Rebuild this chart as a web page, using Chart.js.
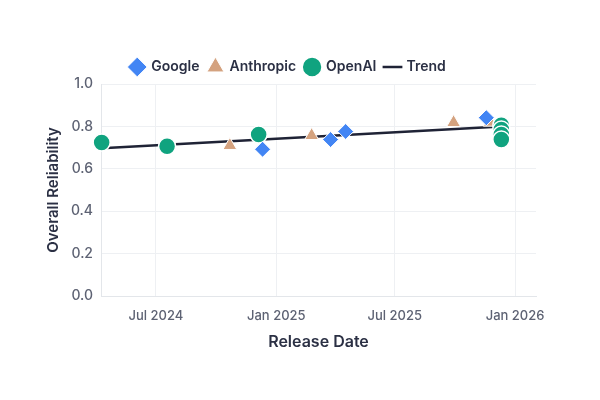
<!DOCTYPE html>
<html>
<head>
<meta charset="utf-8">
<script src="https://cdn.jsdelivr.net/npm/chart.js@4.4.1/dist/chart.umd.min.js"></script>
<style>
  html, body { margin: 0; padding: 0; background: #fff; }
  #wrap { width: 600px; height: 400px; }
</style>
</head>
<body>
<div id="wrap"><canvas id="chart"></canvas></div>
<script>
// values
const googleDates = ['2024-12-11', '2025-03-25', '2025-04-17', '2025-11-18'];
const googleScores = [0.692, 0.738, 0.776, 0.841];

const anthropicDates = ['2024-10-22', '2025-02-24', '2025-09-29', '2025-11-24'];
const anthropicScores = [0.71, 0.757, 0.818, 0.82];

const openaiDates = ['2024-04-09', '2024-07-18', '2024-12-05', '2025-12-11', '2025-12-11', '2025-12-11', '2025-12-11'];
const openaiScores = [0.724, 0.706, 0.762, 0.805, 0.785, 0.762, 0.738];

const trendDates = ['2024-04-09', '2025-12-11'];
const trendScores = [0.697, 0.80];

const xTickDates = ['2024-07-01', '2025-01-01', '2025-07-01', '2026-01-01'];
const xTickLabels = ['Jul 2024', 'Jan 2025', 'Jul 2025', 'Jan 2026'];
const yTicks = [0, 0.2, 0.4, 0.6, 0.8, 1.0];

const toMs = (d) => Date.parse(d + 'T00:00:00Z');
const toPoints = (dates, vals) => dates.map((d, i) => ({ x: toMs(d), y: vals[i] }));

const FONT = 'Inter, "Open Sans", sans-serif';
const tickColor = '#5d6273';
const titleColor = '#2b3044';
const gridColor = '#eef0f3';

const ctx = document.getElementById('chart').getContext('2d');
new Chart(ctx, {
  type: 'scatter',
  data: {
    datasets: [
      {
        label: 'Google',
        data: toPoints(googleDates, googleScores),
        pointStyle: 'rectRot',
        pointRadius: 8,
        backgroundColor: '#4285f4',
        borderColor: '#ffffff',
        borderWidth: 1,
        order: 0,
      },
      {
        label: 'Anthropic',
        data: toPoints(anthropicDates, anthropicScores),
        pointStyle: 'triangle',
        pointRadius: 8,
        backgroundColor: '#d4a27f',
        borderColor: '#ffffff',
        borderWidth: 1,
        order: 2,
      },
      {
        label: 'OpenAI',
        data: toPoints(openaiDates, openaiScores),
        pointStyle: 'circle',
        pointRadius: 8.5,
        backgroundColor: '#10a37f',
        borderColor: '#ffffff',
        borderWidth: 1.5,
        order: 1,
      },
      {
        type: 'line',
        label: 'Trend',
        data: toPoints(trendDates, trendScores),
        pointStyle: 'line',
        pointRadius: 0,
        borderColor: '#1f2336',
        backgroundColor: '#1f2336',
        borderWidth: 2.5,
        showLine: true,
        order: 3,
      },
    ],
  },
  options: {
    responsive: true,
    maintainAspectRatio: false,
    animation: false,
    clip: false,
    layout: { padding: { left: 40, right: 64, top: 51, bottom: 44 } },
    plugins: {
      tooltip: { enabled: false },
      legend: {
        position: 'top',
        labels: {
          usePointStyle: true,
          boxHeight: 14,
          padding: 9,
          color: titleColor,
          font: { family: FONT, size: 14, weight: '600' },
          sort: (a, b) => a.datasetIndex - b.datasetIndex,
        },
      },
    },
    scales: {
      x: {
        type: 'linear',
        min: toMs('2024-04-08'),
        max: toMs('2026-02-02'),
        afterFit: (scale) => { scale.height = 60; },
        afterBuildTicks: (scale) => {
          scale.ticks = xTickDates.map((d) => ({ value: toMs(d) }));
        },
        ticks: {
          color: tickColor,
          font: { family: FONT, size: 13, weight: '500' },
          padding: 12,
          maxRotation: 0,
          callback: (v) => xTickLabels[xTickDates.map(toMs).indexOf(v)],
        },
        grid: { color: gridColor, drawTicks: false },
        border: { color: '#e3e6ea' },
        title: {
          display: true,
          text: 'Release Date',
          color: titleColor,
          font: { family: FONT, size: 16, weight: '600' },
          padding: { top: 6 },
        },
      },
      y: {
        min: 0,
        max: 1,
        afterFit: (scale) => { scale.width = 61; },
        afterBuildTicks: (scale) => {
          scale.ticks = yTicks.map((v) => ({ value: v }));
        },
        ticks: {
          color: tickColor,
          font: { family: FONT, size: 14, weight: '500' },
          padding: 8,
          callback: (v) => v.toFixed(1),
        },
        grid: { color: gridColor, drawTicks: false },
        border: { color: '#e3e6ea' },
        title: {
          display: true,
          text: 'Overall Reliability',
          color: titleColor,
          font: { family: FONT, size: 15, weight: '600' },
          padding: { bottom: 2 },
        },
      },
    },
  },
});
</script>
</body>
</html>
